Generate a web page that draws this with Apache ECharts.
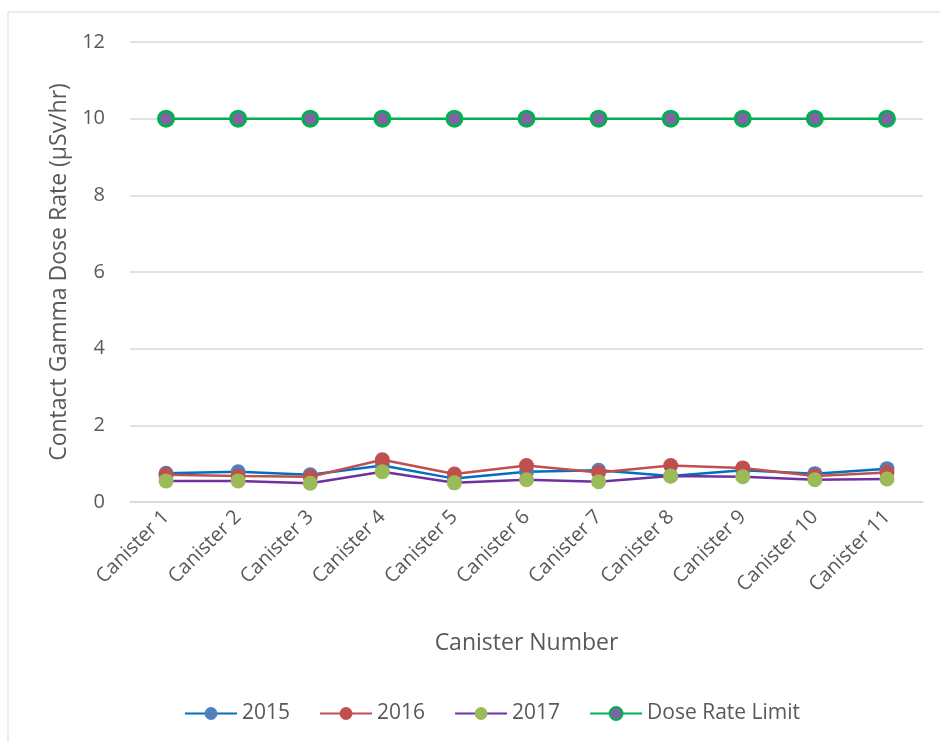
<!DOCTYPE html>
<html>
<head>
<meta charset="utf-8">
<script src="https://cdn.jsdelivr.net/npm/echarts@6/dist/echarts.min.js"></script>
<style>
  html, body { margin: 0; padding: 0; background: #fff; }
  #chart { width: 940px; height: 742px; }
</style>
</head>
<body>
<div id="chart"></div>
<script>
// categories + values
const canisters = ['Canister 1', 'Canister 2', 'Canister 3', 'Canister 4', 'Canister 5', 'Canister 6',
  'Canister 7', 'Canister 8', 'Canister 9', 'Canister 10', 'Canister 11'];
const y2015 = [0.75, 0.79, 0.71, 0.95, 0.61, 0.79, 0.83, 0.68, 0.83, 0.74, 0.87];
const y2016 = [0.71, 0.68, 0.66, 1.10, 0.73, 0.95, 0.77, 0.95, 0.89, 0.68, 0.77];
const y2017 = [0.55, 0.55, 0.49, 0.79, 0.50, 0.58, 0.53, 0.68, 0.66, 0.58, 0.60];
const doseLimit = [10, 10, 10, 10, 10, 10, 10, 10, 10, 10, 10];

const font = 'Open Sans';
const textColor = '#595959';

const chart = echarts.init(document.getElementById('chart'));

function lineSeries(name, data, lineColor, markColor, borderColor) {
  return {
    name: name,
    type: 'line',
    data: data,
    symbol: 'circle',
    symbolSize: 15,
    lineStyle: { color: lineColor, width: 2.5 },
    itemStyle: {
      color: markColor,
      borderColor: borderColor || markColor,
      borderWidth: borderColor ? 3 : 0
    },
    emphasis: { disabled: true }
  };
}

chart.setOption({
  animation: false,
  textStyle: { fontFamily: font },
  graphic: [{
    type: 'rect',
    shape: { x: 8, y: 12, width: 1200, height: 1200 },
    style: { fill: 'none', stroke: '#d9d9d9', lineWidth: 1 },
    silent: true
  }],
  grid: { left: 130, right: 17, top: 42, bottom: 240 },
  legend: {
    top: 698,
    left: 179,
    itemWidth: 52,
    itemHeight: 16,
    itemGap: 29,
    textStyle: { fontFamily: font, fontSize: 21, color: textColor },
    data: ['2015', '2016', '2017', 'Dose Rate Limit']
  },
  xAxis: {
    type: 'category',
    data: canisters,
    boundaryGap: true,
    name: 'Canister Number',
    nameLocation: 'middle',
    nameGap: 130,
    nameTextStyle: { fontFamily: font, fontSize: 23, color: textColor },
    axisLine: { lineStyle: { color: '#d9d9d9', width: 1.5 } },
    axisTick: { show: false },
    axisLabel: { rotate: 45, margin: 12, fontFamily: font, fontSize: 20, color: textColor }
  },
  yAxis: {
    type: 'value',
    min: 0,
    max: 12,
    interval: 2,
    name: 'Contact Gamma Dose Rate (µSv/hr)',
    nameLocation: 'middle',
    nameGap: 58,
    nameTextStyle: { fontFamily: font, fontSize: 23, color: textColor },
    axisLine: { show: false },
    axisTick: { show: false },
    axisLabel: { margin: 25, fontFamily: font, fontSize: 20, color: textColor },
    splitLine: { lineStyle: { color: '#d9d9d9', width: 1.5 } }
  },
  series: [
    lineSeries('2015', y2015, '#0070C0', '#4F81BD'),
    lineSeries('2016', y2016, '#C0504D', '#C0504D'),
    lineSeries('2017', y2017, '#7030A0', '#9BBB59'),
    lineSeries('Dose Rate Limit', doseLimit, '#00B050', '#8064A2', '#00B050')
  ]
});
</script>
</body>
</html>
